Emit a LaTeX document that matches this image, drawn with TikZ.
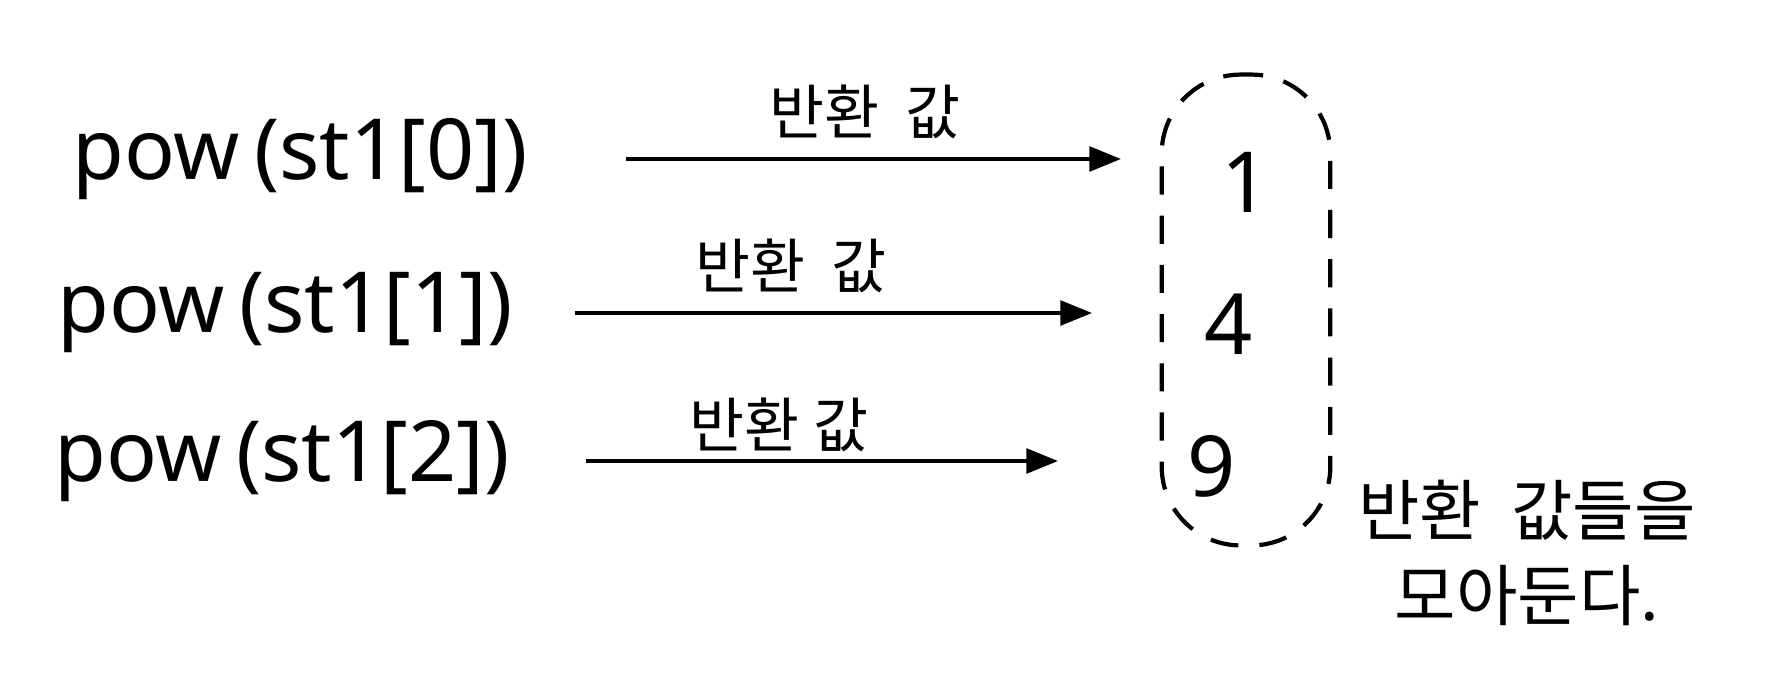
\documentclass[tikz,border=0pt]{standalone}
\usepackage{fontspec}
\setmainfont{Noto Sans}
\newfontfamily\kr{Noto Sans CJK KR}
\usetikzlibrary{arrows.meta}
\tikzset{
  call/.style={font=\fontsize{48}{52}\selectfont, anchor=center, inner sep=0pt},
  lbl/.style={font=\kr\fontsize{34}{38}\selectfont, anchor=center, inner sep=0pt},
  num/.style={font=\fontsize{48}{52}\selectfont, anchor=center, inner sep=0pt},
  note/.style={font=\kr\fontsize{38}{44}\selectfont, anchor=center, inner sep=0pt, align=center},
  ret/.style={line width=2.2pt, -{Triangle[length=18pt,width=14pt]}},
  group/.style={draw, line width=2.4pt, dash pattern=on 16pt off 12pt, rounded corners=45pt, minimum width=96pt, minimum height=268pt, inner sep=0pt}
}
\begin{document}
\begin{tikzpicture}[x=0.02cm,y=-0.02cm]
\useasboundingbox (0,0) rectangle (1784,680);
\node[call] (c0) at (300,159) {pow\,(st1[0])};
\node[call] (c1) at (285,313) {pow\,(st1[1])};
\node[call] (c2) at (282,461) {pow\,(st1[2])};
\node[group] (g) at (1246,310) {};
\node[num] (n1) at (1246,182) {1};
\node[num] (n4) at (1229,324) {4};
\node[num] (n9) at (1212,466) {9};
\coordinate (s0) at (626,159);
\coordinate (s1) at (575,313);
\coordinate (s2) at (586,461);
\coordinate (e0) at (1121,159);
\coordinate (e1) at (1092,313);
\coordinate (e2) at (1058,461);
\draw[ret] (s0) -- (e0);
\draw[ret] (s1) -- (e1);
\draw[ret] (s2) -- (e2);
\node[lbl] (l0) at (865,112) {반환\ \ 값};
\node[lbl] (l1) at (791,266) {반환\ \ 값};
\node[lbl] (l2) at (779,425) {반환\ 값};
\node[note] (t) at (1527,553) {반환\ \ 값들을\\[4pt]모아둔다.};
\end{tikzpicture}
\end{document}
